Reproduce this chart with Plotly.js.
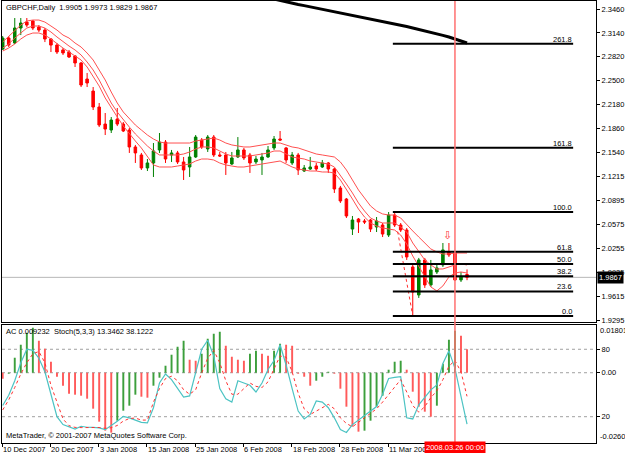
<!DOCTYPE html>
<html><head><meta charset="utf-8">
<script src="https://cdn.plot.ly/plotly-3.0.1.min.js"></script>
<style>html,body{margin:0;padding:0;background:#fff}#chart{width:625px;height:453px}</style>
</head><body><div id="chart"></div>
<script>
// ---------- data ----------
const symbolTitle = 'GBPCHF,Daily\u00a0\u00a01.9905 1.9973 1.9829 1.9867';
const indicatorTitle = 'AC 0.009232\u00a0\u00a0Stoch(5,3,3) 13.3462 38.1222';
const copyrightText = 'MetaTrader, \u00a9 2001-2007 MetaQuotes Software Corp.';
const cursorDate = '2008.03.26 00:00';
const cursorBar = 75;
const lastPrice = 1.9867;

const dateLabels = ['10 Dec 2007','20 Dec 2007','3 Jan 2008','15 Jan 2008','25 Jan 2008','6 Feb 2008','18 Feb 2008','28 Feb 2008','11 Mar 2008'];
const barsPerDateLabel = 8;
const priceTicks = [2.3460,2.3140,2.2820,2.2500,2.2180,2.1860,2.1540,2.1215,2.0895,2.0575,2.0255,1.9935,1.9615,1.9295];

const opens = [2.2924,2.3072,2.3005,2.3206,2.3286,2.3300,2.3219,2.3179,2.3059,2.2978,
 2.2912,2.2885,2.2832,2.2738,2.2523,2.2362,2.2148,2.1920,2.1840,2.1987,
 2.1920,2.1840,2.1613,2.1506,2.1332,2.1399,2.1573,2.1679,2.1506,2.1533,
 2.1412,2.1345,2.1479,2.1706,2.1587,2.1746,2.1506,2.1506,2.1385,2.1479,
 2.1573,2.1506,2.1412,2.1439,2.1479,2.1600,2.1720,2.1600,2.1399,2.1506,
 2.1291,2.1318,2.1359,2.1345,2.1399,2.1318,2.1064,2.0916,2.0514,2.0648,
 2.0622,2.0635,2.0541,2.0568,2.0434,2.0702,2.0568,2.0501,2.0006,1.9631,
 2.0100,1.9765,1.9939,2.0033,2.0207,2.0194,1.9832,1.9905];
const highs = [2.3099,2.3099,2.3340,2.3340,2.3340,2.3313,2.3246,2.3206,2.3072,2.3005,
 2.2938,2.2912,2.2845,2.2751,2.2604,2.2416,2.2202,2.2068,2.2014,2.2135,
 2.1947,2.1867,2.1640,2.1533,2.1452,2.1666,2.1800,2.1706,2.1573,2.1560,
 2.1479,2.1613,2.1773,2.1733,2.1773,2.1773,2.1546,2.1546,2.1546,2.1746,
 2.1600,2.1533,2.1493,2.1533,2.1626,2.1760,2.1827,2.1613,2.1546,2.1533,
 2.1372,2.1479,2.1399,2.1439,2.1412,2.1332,2.1091,2.0930,2.0689,2.0662,
 2.0648,2.0648,2.0675,2.0595,2.0742,2.0728,2.0595,2.0528,2.0033,2.0127,
 2.0127,2.0100,2.0033,2.0327,2.0327,2.0220,1.9939,1.9973];
const lows = [2.2912,2.2951,2.2991,2.3112,2.3219,2.3179,2.3152,2.3018,2.2885,2.2858,
 2.2845,2.2805,2.2684,2.2416,2.2416,2.2108,2.1880,2.1773,2.1800,2.1893,
 2.1813,2.1533,2.1399,2.1305,2.1291,2.1211,2.1533,2.1399,2.1412,2.1385,
 2.1171,2.1211,2.1466,2.1587,2.1546,2.1479,2.1479,2.1238,2.1372,2.1466,
 2.1439,2.1265,2.1385,2.1238,2.1466,2.1573,2.1693,2.1399,2.1372,2.1238,
 2.1278,2.1305,2.1291,2.1332,2.1265,2.0997,2.0863,2.0662,2.0434,2.0461,
 2.0581,2.0474,2.0474,2.0407,2.0407,2.0541,2.0474,2.0100,1.9350,1.9591,
 1.9725,1.9738,1.9912,2.0006,2.0140,1.9818,1.9805,1.9829];
const closes = [2.3072,2.2978,2.3206,2.3273,2.3246,2.3206,2.3179,2.3059,2.2978,2.2885,
 2.2872,2.2818,2.2738,2.2443,2.2470,2.2148,2.1907,2.1853,2.1974,2.1920,
 2.1827,2.1613,2.1533,2.1332,2.1399,2.1560,2.1679,2.1452,2.1533,2.1412,
 2.1305,2.1479,2.1746,2.1613,2.1746,2.1506,2.1493,2.1399,2.1466,2.1573,
 2.1466,2.1399,2.1452,2.1479,2.1573,2.1720,2.1706,2.1439,2.1506,2.1305,
 2.1332,2.1345,2.1318,2.1399,2.1318,2.1050,2.0890,2.0689,2.0635,2.0608,
 2.0608,2.0514,2.0622,2.0447,2.0702,2.0568,2.0501,2.0140,1.9671,2.0100,
 1.9765,1.9966,1.9993,2.0234,2.0167,1.9832,1.9872,1.9867];

const envUpper = [2.3019,2.3099,2.3179,2.3246,2.3300,2.3313,2.3313,2.3286,2.3233,2.3179,
 2.3112,2.3072,2.3005,2.2952,2.2871,2.2778,2.2644,2.2510,2.2349,2.2202,
 2.2081,2.1987,2.1907,2.1840,2.1773,2.1720,2.1680,2.1666,2.1666,2.1666,
 2.1666,2.1666,2.1693,2.1706,2.1720,2.1733,2.1706,2.1666,2.1640,2.1626,
 2.1613,2.1613,2.1626,2.1640,2.1653,2.1666,2.1666,2.1640,2.1613,2.1600,
 2.1573,2.1546,2.1519,2.1506,2.1492,2.1479,2.1412,2.1305,2.1171,2.1037,
 2.0930,2.0823,2.0756,2.0716,2.0702,2.0702,2.0662,2.0582,2.0488,2.0407,
 2.0327,2.0247,2.0207,2.0180,2.0180,2.0193,2.0193,2.0193];
const envMiddle = [2.2938,2.2992,2.3072,2.3139,2.3206,2.3233,2.3233,2.3206,2.3153,2.3086,
 2.3019,2.2965,2.2912,2.2845,2.2751,2.2644,2.2510,2.2349,2.2202,2.2081,
 2.1974,2.1880,2.1787,2.1706,2.1626,2.1559,2.1506,2.1506,2.1506,2.1506,
 2.1519,2.1546,2.1586,2.1613,2.1613,2.1600,2.1559,2.1519,2.1492,2.1492,
 2.1492,2.1492,2.1506,2.1519,2.1532,2.1559,2.1559,2.1519,2.1479,2.1465,
 2.1452,2.1425,2.1412,2.1398,2.1385,2.1345,2.1238,2.1117,2.0997,2.0863,
 2.0756,2.0662,2.0622,2.0595,2.0595,2.0595,2.0541,2.0474,2.0327,2.0207,
 2.0100,2.0033,1.9979,1.9979,2.0006,2.0033,2.0046,2.0033];
const envLower = [2.2898,2.2938,2.2992,2.3059,2.3112,2.3139,2.3139,2.3112,2.3059,2.2992,
 2.2938,2.2885,2.2831,2.2778,2.2684,2.2563,2.2429,2.2269,2.2135,2.2014,
 2.1894,2.1787,2.1693,2.1599,2.1479,2.1372,2.1345,2.1345,2.1345,2.1358,
 2.1372,2.1385,2.1425,2.1452,2.1452,2.1439,2.1398,2.1372,2.1358,2.1345,
 2.1345,2.1358,2.1372,2.1385,2.1398,2.1412,2.1425,2.1385,2.1345,2.1318,
 2.1305,2.1291,2.1291,2.1278,2.1278,2.1264,2.1171,2.1050,2.0916,2.0782,
 2.0675,2.0595,2.0555,2.0528,2.0515,2.0501,2.0434,2.0314,2.0153,2.0019,
 1.9872,1.9738,1.9685,1.9752,1.9872,1.9925,1.9939,1.9925];

const longMaFirstBar = 45;
const longMa = [2.3594,2.3574,2.3554,2.3538,2.3522,2.3506,2.3490,2.3474,2.3458,2.3442,
 2.3426,2.3410,2.3394,2.3377,2.3361,2.3345,2.3329,2.3313,2.3296,2.3278,
 2.3261,2.3244,2.3226,2.3207,2.3189,2.3170,2.3150,2.3130,2.3108,2.3086,
 2.3061,2.3036,2.3005];

const zigzagBars = [65.5, 68];
const zigzagPrices = [2.0480, 1.9350];

const fibLevels = [0.0, 23.6, 38.2, 50.0, 61.8, 100.0, 161.8, 261.8];
const fibLow = 1.9350, fibHigh = 2.0742;
const fibStartBar = 64.7, fibEndBar = 94.6;

const arrowBar = 73.8, arrowPrice = 2.0434;

const acValues = [-0.00235,-0.00039,0.00588,0.01098,0.01568,0.01764,0.01254,0.00941,0.00431,-0.00157,
 -0.00510,-0.00823,-0.00862,-0.00902,-0.01019,-0.01411,-0.01921,-0.02274,-0.02352,-0.01882,
 -0.01490,-0.01294,-0.00862,-0.00941,-0.00980,-0.00510,-0.00196,0.00274,0.00706,0.01019,
 0.01254,0.00510,0.00470,0.00745,0.01333,0.01529,0.01607,0.01058,0.00627,0.00510,
 0.00470,0.00745,0.00862,0.00745,0.00666,0.00862,0.01137,0.01098,0.01058,-0.00039,
 -0.00157,-0.00510,-0.00314,-0.00157,0.00039,-0.00039,-0.00627,-0.01333,-0.02117,-0.02313,
 -0.02274,-0.01882,-0.01333,-0.00902,0.00118,0.00431,0.00470,0.00118,-0.00745,-0.01333,
 -0.01529,-0.01725,-0.01294,0.00353,0.01294,0.01646,0.01450,0.009232];
const acMax = 0.018017, acMin = -0.026087;

const stochMain = [30,39,52,68,80,79,72,60,40,20,
 13,11,9,11.5,10.6,10.5,10,8.5,12,16,
 20.3,19,17,15,14.5,28,50,58,53,45,
 37.4,38.5,58,80,88,74,45,36,33,52,
 50,48,42,50,62,70,84,66,45,25,
 18,22,34,33,28,19,8.5,6,13,17,
 21.8,25,29,40,54,55,55.6,19,18,30.6,
 37.4,43.9,48.3,67.4,78.6,63,38,13.3462];
const stochSignal = [26,35,46,58,68,76,78,68,48,32,
 18,12,10.5,10.3,10.4,10.9,10.4,9.7,10.2,12.2,
 16.1,18.4,18.8,17,17,33,45,54,56,52,
 44,40,44,59,72,79,68,52,40,40,
 45,50,47,46,51,63,74,73,60,41,
 27,22,25,28,31,27,19,14,11,15,
 19,23,27,33,40,47,53,42,30,24,
 29,37,43,53,65,70,60,38.1222];
const stochLevels = [20, 80];

// ---------- build ----------
const FONT = '"Liberation Sans", Arial, sans-serif';
const idx = opens.map((_, i) => i);
const xRange = [-0.116, 98.39];
const GREEN = '#008000', RED = '#ff0000';
const dateTickVals = dateLabels.map((_, k) => k * barsPerDateLabel - 0.1);

const acColors = acValues.map((v, i) => (i > 0 && v > acValues[i - 1]) ? '#3c9f3c' : '#ff5a5a');

const traces = [
  {type:'candlestick', x: idx, open: opens, high: highs, low: lows, close: closes,
   xaxis:'x', yaxis:'y', whiskerwidth: 0, hoverinfo:'skip',
   increasing:{line:{color:GREEN, width:1}, fillcolor:GREEN},
   decreasing:{line:{color:RED, width:1}, fillcolor:RED}},
  {type:'scatter', mode:'lines', x: idx, y: envUpper, xaxis:'x', yaxis:'y', line:{color:'#ff5050', width:1}, hoverinfo:'skip'},
  {type:'scatter', mode:'lines', x: idx, y: envMiddle, xaxis:'x', yaxis:'y', line:{color:'#ff5050', width:1}, hoverinfo:'skip'},
  {type:'scatter', mode:'lines', x: idx, y: envLower, xaxis:'x', yaxis:'y', line:{color:'#ff5050', width:1}, hoverinfo:'skip'},
  {type:'scatter', mode:'lines', x: longMa.map((_, k) => longMaFirstBar + k), y: longMa, xaxis:'x', yaxis:'y', line:{color:'#000', width:3}, hoverinfo:'skip'},
  {type:'scatter', mode:'lines', x: zigzagBars, y: zigzagPrices, xaxis:'x', yaxis:'y', line:{color:'#ff3030', width:1, dash:'dot'}, hoverinfo:'skip'},
  {type:'bar', x: idx, y: acValues, xaxis:'x2', yaxis:'y2', width: 0.32, marker:{color: acColors, line:{width:0}}, hoverinfo:'skip'},
  {type:'scatter', mode:'lines', x: idx, y: stochMain, xaxis:'x2', yaxis:'y3', line:{color:'#4cc3c3', width:1.2}, hoverinfo:'skip'},
  {type:'scatter', mode:'lines', x: idx, y: stochSignal, xaxis:'x2', yaxis:'y3', line:{color:'#ff3030', width:1, dash:'dot'}, hoverinfo:'skip'}
];

const fibPrice = l => fibLow + (fibHigh - fibLow) * l / 100;

const shapes = [
  {type:'line', xref:'paper', x0:0, x1:1, yref:'y', y0:lastPrice, y1:lastPrice, line:{color:'#b8b8b8', width:1}, layer:'below'},
  {type:'line', xref:'paper', x0:0, x1:1, yref:'y2', y0:0, y1:0, line:{color:'#a0a0a0', width:1, dash:'dot'}, layer:'below'}
];
stochLevels.forEach(l => shapes.push({type:'line', xref:'paper', x0:0, x1:1, yref:'y3', y0:l, y1:l, line:{color:'#a0a0a0', width:1, dash:'dot'}, layer:'below'}));
fibLevels.forEach(l => shapes.push({type:'line', xref:'x', x0:fibStartBar, x1:fibEndBar, yref:'y', y0:fibPrice(l), y1:fibPrice(l), line:{color:'#000', width:2}}));
shapes.push({type:'line', xref:'x', x0:cursorBar, x1:cursorBar, yref:'paper', y0:0, y1:1, line:{color:'#ff7070', width:1.5}});

const annotations = [
  {xref:'paper', yref:'paper', x:0, y:1, xanchor:'left', yanchor:'top', xshift:2, yshift:0, text:symbolTitle, showarrow:false, font:{family:FONT, size:7.5, color:'#000'}},
  {xref:'paper', yref:'paper', x:0, y:0.26697, xanchor:'left', yanchor:'top', xshift:2, yshift:0, text:indicatorTitle, showarrow:false, font:{family:FONT, size:7.5, color:'#000'}},
  {xref:'paper', yref:'paper', x:0, y:0, xanchor:'left', yanchor:'bottom', xshift:2, yshift:1, text:copyrightText, showarrow:false, font:{family:FONT, size:7.5, color:'#000'}},
  {xref:'paper', yref:'y', x:1, y:lastPrice, xanchor:'left', yanchor:'middle', xshift:1, text:lastPrice.toFixed(4), showarrow:false, bgcolor:'#000', borderpad:1, font:{family:FONT, size:7.5, color:'#fff'}},
  {xref:'paper', yref:'paper', x:1, y:0.2534, xanchor:'left', yanchor:'middle', xshift:2, text:acMax.toFixed(6), showarrow:false, font:{family:FONT, size:7.5, color:'#000'}},
  {xref:'paper', yref:'paper', x:1, y:0.0136, xanchor:'left', yanchor:'middle', xshift:2, text:acMin.toFixed(6), showarrow:false, font:{family:FONT, size:7.5, color:'#000'}},
  {xref:'x', yref:'y', x:arrowBar, y:arrowPrice, xanchor:'center', yanchor:'middle', text:'\u21e9', showarrow:false, font:{family:'DejaVu Sans', size:11, color:'#ff3030'}}
];
fibLevels.forEach(l => annotations.push({xref:'x', yref:'y', x:fibEndBar, y:fibPrice(l), xanchor:'right', yanchor:'bottom', yshift:-1, text:l.toFixed(1), showarrow:false, borderpad:0, font:{family:FONT, size:7.5, color:'#000'}}));
// date labels under the lower panel (left-aligned at their tick, as in MetaTrader)
dateLabels.forEach((t, k) => annotations.push({xref:'x2', yref:'paper', x:dateTickVals[k], y:0, xanchor:'left', yanchor:'top', xshift:0, yshift:-1, text:t, showarrow:false, borderpad:0, font:{family:FONT, size:7.5, color:'#000'}}));
annotations.push({xref:'x', yref:'paper', x:cursorBar, y:0, xanchor:'center', yanchor:'top', yshift:2, text:cursorDate, showarrow:false, bgcolor:'#ff0000', borderpad:1, font:{family:FONT, size:7.5, color:'#fff'}});

const axisBase = {showgrid:false, zeroline:false, showline:true, mirror:true, linecolor:'#000', linewidth:1, fixedrange:true};
const layout = {
  width:625, height:453,
  margin:{l:2, r:29, t:1, b:10, pad:0},
  paper_bgcolor:'#fff', plot_bgcolor:'#fff',
  showlegend:false,
  font:{family:FONT, size:7.5, color:'#000'},
  boxgap:0.4,
  xaxis: Object.assign({}, axisBase, {domain:[0,1], anchor:'y', range:xRange, showticklabels:false, ticks:'', rangeslider:{visible:false}}),
  xaxis2: Object.assign({}, axisBase, {domain:[0,1], anchor:'y2', range:xRange, tickmode:'array',
    tickvals: dateTickVals, ticktext: dateLabels.map(() => ''), showticklabels:false,
    ticks:'outside', ticklen:3, tickcolor:'#000'}),
  yaxis: Object.assign({}, axisBase, {domain:[0.27376,1], anchor:'x', range:[1.9269,2.3568], side:'right', tickmode:'array',
    tickvals: priceTicks, ticktext: priceTicks.map(v => v.toFixed(4)), ticks:'outside', ticklen:3, tickcolor:'#000', tickfont:{family:FONT, size:7.5}}),
  yaxis2: Object.assign({}, axisBase, {domain:[0,0.26697], anchor:'x2', range:[-0.027578,0.018723], side:'right', tickmode:'array',
    tickvals:[0], ticktext:['0.00'], ticks:'outside', ticklen:3, tickcolor:'#000', tickfont:{family:FONT, size:7.5}}),
  yaxis3: {overlaying:'y2', anchor:'x2', range:[-3.4,101.6], side:'right', tickmode:'array', tickvals:stochLevels, ticktext:stochLevels.map(String),
    ticks:'outside', ticklen:3, tickcolor:'#000', showgrid:false, zeroline:false, showline:false, fixedrange:true, tickfont:{family:FONT, size:7.5}},
  shapes: shapes,
  annotations: annotations
};

Plotly.newPlot('chart', traces, layout, {staticPlot:true, displayModeBar:false});
</script>
</body></html>
